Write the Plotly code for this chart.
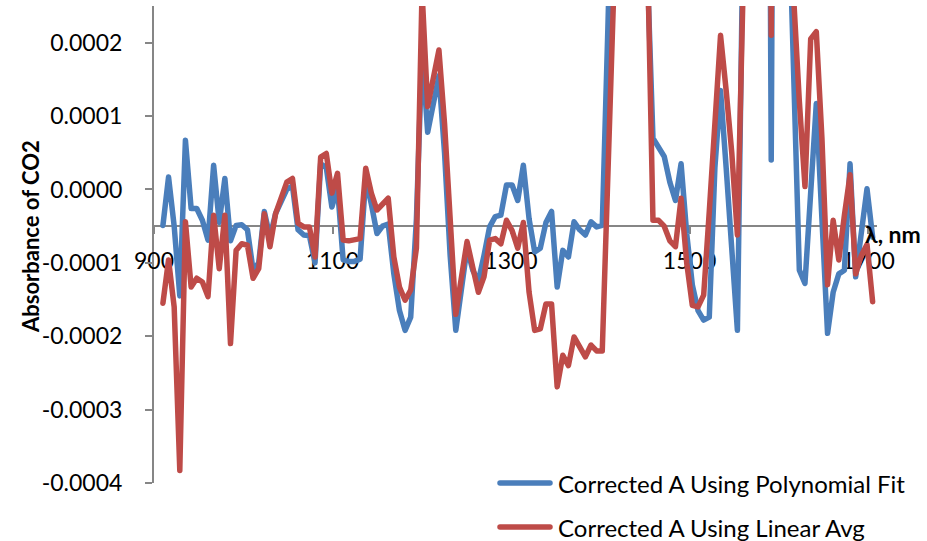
import plotly.graph_objects as go

wavelength_nm = [
    910.0, 916.3, 922.6, 928.9, 935.2, 941.6, 947.9, 954.2, 960.5, 966.8,
    973.1, 979.4, 985.7, 992.0, 998.3, 1004.7, 1011.0, 1017.3, 1023.6, 1029.9,
    1036.2, 1042.5, 1048.8, 1055.1, 1061.4, 1067.8, 1074.1, 1080.4, 1086.7, 1093.0,
    1099.3, 1105.6, 1111.9, 1118.2, 1124.5, 1130.9, 1137.2, 1143.5, 1149.8, 1156.1,
    1162.4, 1168.7, 1175.0, 1181.3, 1187.6, 1194.0, 1200.3, 1206.6, 1212.9, 1219.2,
    1225.5, 1231.8, 1238.1, 1244.4, 1250.7, 1257.1, 1263.4, 1269.7, 1276.0, 1282.3,
    1288.6, 1294.9, 1301.2, 1307.5, 1313.8, 1320.2, 1326.5, 1332.8, 1339.1, 1345.4,
    1351.7, 1358.0, 1364.3, 1370.6, 1376.9, 1383.3, 1389.6, 1395.9, 1402.2, 1408.5,
    1414.8, 1421.1, 1427.4, 1433.7, 1440.0, 1446.4, 1452.7, 1459.0, 1465.3, 1471.6,
    1477.9, 1484.2, 1490.5, 1496.8, 1503.1, 1509.5, 1515.8, 1522.1, 1528.4, 1534.7,
    1541.0, 1547.3, 1553.6, 1559.9, 1566.2, 1572.6, 1578.9, 1585.2, 1591.5, 1597.8,
    1604.1, 1610.4, 1616.7, 1623.0, 1629.3, 1635.7, 1642.0, 1648.3, 1654.6, 1660.9,
    1667.2, 1673.5, 1679.8, 1686.1, 1692.4, 1698.8, 1705.1,
]

poly_fit = [
    -0.49e-4, 0.17e-4, -0.5e-4, -1.45e-4, 0.67e-4, -0.26e-4, -0.26e-4, -0.42e-4, -0.69e-4, 0.33e-4,
    -0.45e-4, 0.15e-4, -0.7e-4, -0.49e-4, -0.48e-4, -0.55e-4, -1.1e-4, -1.0e-4, -0.3e-4, -0.65e-4,
    -0.33e-4, -0.15e-4, 0.0e-4, 0.05e-4, -0.55e-4, -0.62e-4, -0.63e-4, -1.0e-4, 0.35e-4, 0.3e-4,
    -0.24e-4, 0.02e-4, -0.96e-4, -0.98e-4, -0.98e-4, -0.95e-4, 0.15e-4, -0.2e-4, -0.6e-4, -0.5e-4,
    -0.47e-4, -1.15e-4, -1.65e-4, -1.92e-4, -1.74e-4, -0.4e-4, 1.9e-4, 0.78e-4, 1.2e-4, 1.55e-4,
    0.5e-4, -0.9e-4, -1.92e-4, -1.4e-4, -0.8e-4, -1.1e-4, -1.25e-4, -0.9e-4, -0.51e-4, -0.37e-4,
    -0.35e-4, 0.06e-4, 0.06e-4, -0.15e-4, 0.33e-4, -0.4e-4, -0.85e-4, -0.8e-4, -0.45e-4, -0.3e-4,
    -1.33e-4, -0.83e-4, -0.92e-4, -0.44e-4, -0.55e-4, -0.62e-4, -0.44e-4, -0.51e-4, -0.49e-4, 2.2e-4,
    6.0e-4, 9.0e-4, 11.0e-4, 10.0e-4, 8.0e-4, 5.0e-4, 3.0e-4, 0.7e-4, 0.56e-4, 0.45e-4,
    0.1e-4, -0.15e-4, 0.35e-4, -0.6e-4, -1.3e-4, -1.65e-4, -1.78e-4, -1.74e-4, 0.3e-4, 1.35e-4,
    0.3e-4, -0.7e-4, -1.92e-4, 3.5e-4, 8.0e-4, 12.0e-4, 14.0e-4, 16.0e-4, 0.4e-4, 16.0e-4,
    12.0e-4, 4.2e-4, 1.8e-4, -1.1e-4, -1.28e-4, -0.1e-4, 1.17e-4, -0.4e-4, -1.96e-4, -1.4e-4,
    -1.15e-4, -1.1e-4, 0.35e-4, -1.19e-4, -0.55e-4, 0.01e-4, -0.65e-4,
]

linear_avg = [
    -1.55e-4, -0.96e-4, -1.6e-4, -3.83e-4, -0.44e-4, -1.33e-4, -1.21e-4, -1.26e-4, -1.46e-4, -0.35e-4,
    -1.08e-4, -0.35e-4, -2.1e-4, -0.83e-4, -0.74e-4, -0.76e-4, -1.21e-4, -1.08e-4, -0.33e-4, -0.78e-4,
    -0.33e-4, -0.1e-4, 0.1e-4, 0.15e-4, -0.46e-4, -0.51e-4, -0.51e-4, -0.92e-4, 0.44e-4, 0.49e-4,
    -0.05e-4, 0.22e-4, -0.69e-4, -0.7e-4, -0.69e-4, -0.67e-4, 0.29e-4, -0.05e-4, -0.28e-4, -0.19e-4,
    -0.12e-4, -0.92e-4, -1.33e-4, -1.51e-4, -1.37e-4, -0.8e-4, 2.7e-4, 1.13e-4, 1.54e-4, 1.9e-4,
    0.9e-4, -0.35e-4, -1.7e-4, -1.2e-4, -0.71e-4, -1.06e-4, -1.4e-4, -1.19e-4, -0.69e-4, -0.67e-4,
    -0.74e-4, -0.42e-4, -0.56e-4, -0.8e-4, -0.45e-4, -1.4e-4, -1.92e-4, -1.9e-4, -1.56e-4, -1.56e-4,
    -2.69e-4, -2.26e-4, -2.4e-4, -2.01e-4, -2.15e-4, -2.28e-4, -2.12e-4, -2.2e-4, -2.2e-4, 0.0e-4,
    2.6e-4, 6.0e-4, 9.0e-4, 10.0e-4, 8.0e-4, 5.0e-4, 3.3e-4, -0.42e-4, -0.42e-4, -0.5e-4,
    -0.7e-4, -0.78e-4, -0.12e-4, -1.0e-4, -1.58e-4, -1.6e-4, -1.44e-4, -0.3e-4, 1.0e-4, 2.1e-4,
    1.35e-4, 0.5e-4, -0.62e-4, 3.2e-4, 8.0e-4, 12.0e-4, 14.0e-4, 16.0e-4, 2.1e-4, 16.0e-4,
    12.0e-4, 5.0e-4, 2.6e-4, 1.2e-4, 0.04e-4, 2.05e-4, 2.15e-4, 0.7e-4, -1.3e-4, -0.42e-4,
    -0.96e-4, -0.35e-4, 0.2e-4, -1.15e-4, -0.9e-4, -0.75e-4, -1.53e-4,
]

series_names = ["Corrected A Using Polynomial Fit", "Corrected A Using Linear Avg"]
series_colors = ["#4A7EBB", "#BE4B48"]
x_ticks = [900, 1100, 1300, 1500, 1700]
y_ticks = [-0.0004, -0.0003, -0.0002, -0.0001, 0.0, 0.0001, 0.0002]
y_tick_text = ["-0.0004", "-0.0003", "-0.0002", "-0.0001", "0.0000", "0.0001", "0.0002"]
x_range = [900, 1710]
y_range = [-0.0004, 0.00025]
x_cross = -0.00005

FONT = "Lato, 'Open Sans', sans-serif"
AXIS_GRAY = "#868686"

fig = go.Figure()
for name, ys, col in zip(series_names, [poly_fit, linear_avg], series_colors):
    fig.add_trace(go.Scatter(
        x=wavelength_nm, y=ys, mode="lines", name=name,
        line=dict(color=col, width=5.5), showlegend=False,
    ))

cross_pos = (x_cross - y_range[0]) / (y_range[1] - y_range[0])

fig.update_layout(
    width=927, height=541,
    margin=dict(l=154, r=50, t=6, b=58),
    paper_bgcolor="white", plot_bgcolor="white",
    font=dict(family=FONT, size=23, color="black"),
    showlegend=False,
    xaxis=dict(
        range=x_range, anchor="free", position=cross_pos,
        tickvals=x_ticks, ticktext=[str(v) for v in x_ticks],
        showline=True, linecolor=AXIS_GRAY, linewidth=2,
        ticks="outside", ticklen=7, tickwidth=2, tickcolor=AXIS_GRAY,
        showgrid=False, zeroline=False, layer="below traces",
        ticklabelstandoff=7,
        tickfont=dict(family=FONT, size=23, color="black"),
    ),
    yaxis=dict(
        range=y_range,
        tickvals=y_ticks, ticktext=y_tick_text,
        showline=True, linecolor=AXIS_GRAY, linewidth=2,
        ticks="outside", ticklen=7, tickwidth=2, tickcolor=AXIS_GRAY,
        showgrid=False, zeroline=False, layer="below traces",
        ticklabelstandoff=18,
        tickfont=dict(family=FONT, size=23, color="black"),
    ),
)

pw = 927 - 154 - 50
ph = 541 - 6 - 58

def px_to_paper_x(px):
    return (px - 154) / pw

def py_to_paper_y(py):
    return (541 - 58 - py) / ph

# axis titles
fig.add_annotation(
    text="<b>Absorbance of CO2</b>", textangle=-90,
    xref="paper", yref="paper", x=px_to_paper_x(30), y=py_to_paper_y(237),
    xanchor="center", yanchor="middle", showarrow=False,
    font=dict(family=FONT, size=22, color="black"),
)
fig.add_annotation(
    text="<b>λ, nm</b>",
    xref="paper", yref="paper", x=px_to_paper_x(863), y=py_to_paper_y(234),
    xanchor="left", yanchor="middle", showarrow=False,
    font=dict(family=FONT, size=23, color="black"),
)

# legend drawn manually
legend_rows = [483, 527]
for name, col, py in zip(series_names, series_colors, legend_rows):
    fig.add_shape(
        type="line", xref="paper", yref="paper",
        x0=px_to_paper_x(500), x1=px_to_paper_x(550),
        y0=py_to_paper_y(py), y1=py_to_paper_y(py),
        line=dict(color=col, width=5.5),
    )
    fig.add_annotation(
        text=name, xref="paper", yref="paper",
        x=px_to_paper_x(556), y=py_to_paper_y(py),
        xanchor="left", yanchor="middle", showarrow=False,
        font=dict(family=FONT, size=24, color="black"),
    )

round_joins = """
document.querySelectorAll('.scatterlayer .js-line, .shapelayer path').forEach(function(p){
  p.style.strokeLinejoin = 'round';
  p.style.strokeLinecap = 'round';
});
"""

fig.write_html("out.html", post_script=round_joins)
